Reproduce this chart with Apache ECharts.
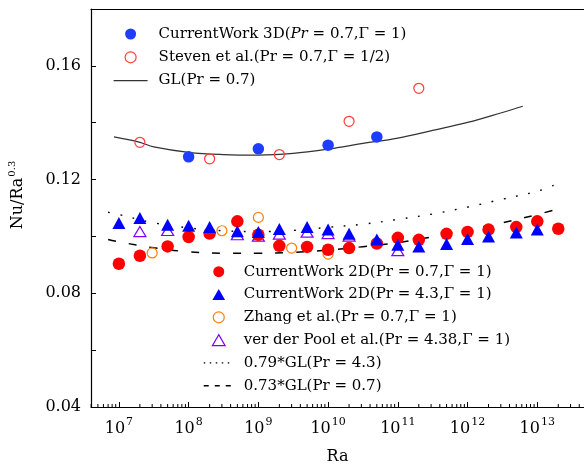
<!DOCTYPE html>
<html>
<head>
<meta charset="utf-8">
<script src="https://cdn.jsdelivr.net/npm/echarts@6/dist/echarts.min.js"></script>
<style>
  html, body { margin: 0; padding: 0; background: #fff; }
  #chart { width: 584px; height: 465px; }
</style>
</head>
<body>
<div id="chart"></div>
<script>
// x range of the plot (Ra)
const xMin = Math.pow(10, 6.6)
const xMax = Math.pow(10, 13.67)

// CurrentWork 3D (Pr=0.7, Γ=1)
const ra3D = [1e8, 1e9, 1e10, 5e10]
const nu3D = [0.1280, 0.1308, 0.1321, 0.1350]

// Steven et al. (Pr=0.7, Γ=1/2)
const raSteven = [2e7, 2e8, 2e9, 2e10, 2e11]
const nuSteven = [0.1331, 0.1273, 0.1288, 0.1405, 0.1521]

// GL(Pr=0.7)
const raGL = [8.5e6, 2e7, 3.16e7, 1e8, 3.16e8, 1e9, 3.16e9, 1e10, 3.16e10, 1e11, 3.16e11, 1e12, 3.16e12, 6.2e12]
const nuGL = [0.1350, 0.1331, 0.1315, 0.1296, 0.1288, 0.1286, 0.1292, 0.1307, 0.1327, 0.1346, 0.1373, 0.1401, 0.1436, 0.1458]

// CurrentWork 2D, both Pr
const ra2D = [1e7, 2e7, 5e7, 1e8, 2e8, 5e8, 1e9, 2e9, 5e9, 1e10, 2e10, 5e10, 1e11, 2e11, 5e11, 1e12, 2e12, 5e12, 1e13, 2e13]
const nu2D07 = [0.0904, 0.0932, 0.0965, 0.0998, 0.1010, 0.1053, 0.1006, 0.0967, 0.0963, 0.0953, 0.0959, 0.0975, 0.0995, 0.0988, 0.1009, 0.1016, 0.1024, 0.1033, 0.1053, 0.1027]
const ra2D43 = [1e7, 2e7, 5e7, 1e8, 2e8, 5e8, 1e9, 2e9, 5e9, 1e10, 2e10, 5e10, 1e11, 2e11, 5e11, 1e12, 2e12, 5e12, 1e13]
const nu2D43 = [0.1047, 0.1065, 0.1041, 0.1038, 0.1033, 0.1018, 0.1016, 0.1026, 0.1033, 0.1024, 0.1009, 0.0989, 0.0971, 0.0965, 0.0973, 0.0991, 0.1000, 0.1014, 0.1024]

// Zhang et al. (Pr=0.7, Γ=1)
const raZhang = [3e7, 3e8, 1e9, 3e9, 1e10]
const nuZhang = [0.0942, 0.1020, 0.1067, 0.0959, 0.0938]

// ver der Pool et al. (Pr=4.38, Γ=1)
const raPool = [2e7, 5e7, 5e8, 1e9, 2e9, 5e9, 1e10, 2e10, 1e11]
const nuPool = [0.1017, 0.1021, 0.1006, 0.1001, 0.1008, 0.1015, 0.1010, 0.1001, 0.0950]

// 0.79*GL(Pr=4.3)
const raDot = [7e6, 1e7, 3.16e7, 1e8, 3.16e8, 1e9, 3.16e9, 1e10, 3.16e10, 1e11, 3.16e11, 1e12, 3.16e12, 1e13, 1.8e13]
const nuDot = [0.1085, 0.1077, 0.1048, 0.1030, 0.1020, 0.1017, 0.1021, 0.1032, 0.1043, 0.1060, 0.1079, 0.1103, 0.1131, 0.1159, 0.1182]

// 0.73*GL(Pr=0.7)
const raDash = [7e6, 1e7, 3.16e7, 1e8, 3.16e8, 1e9, 3.16e9, 1e10, 3.16e10, 1e11, 3.16e11, 1e12, 3.16e12, 1e13, 1.8e13]
const nuDash = [0.0989, 0.0981, 0.0960, 0.0946, 0.0941, 0.0941, 0.0944, 0.0952, 0.0964, 0.0978, 0.0999, 0.1022, 0.1048, 0.1077, 0.1094]

// log minor ticks (2..9 x 10^k) inside the range
const minorTicks = []
for (let k = 6; k <= 13; k++) {
  for (let m = 2; m <= 9; m++) {
    const v = m * Math.pow(10, k)
    if (v > xMin && v < xMax) minorTicks.push([v])
  }
}

const N3D = 'CurrentWork 3D(Pr = 0.7,Γ = 1)'
const NSteven = 'Steven et al.(Pr = 0.7,Γ = 1/2)'
const NGL = 'GL(Pr = 0.7)'
const N07 = 'CurrentWork 2D(Pr = 0.7,Γ = 1)'
const N43 = 'CurrentWork 2D(Pr = 4.3,Γ = 1)'
const NZhang = 'Zhang et al.(Pr = 0.7,Γ = 1)'
const NPool = 'ver der Pool et al.(Pr = 4.38,Γ = 1)'
const NDot = '0.79*GL(Pr = 4.3)'
const NDash = '0.73*GL(Pr = 0.7)'

const zip = (xs, ys) => xs.map((x, i) => [x, ys[i]])

const axisFont = 'DejaVu Serif'
const legendFont = 'DejaVu Serif'
const triIcon = 'path://M6,0L12,10.4L0,10.4Z'

const legendText = {
  fontFamily: legendFont,
  fontSize: 15,
  color: '#000',
  lineHeight: 18,
  rich: {
    i: { fontFamily: legendFont, fontSize: 15, fontStyle: 'italic', lineHeight: 18, color: '#000' }
  }
}
const noSymbol = { opacity: 0 }

const chart = echarts.init(document.getElementById('chart'))
const option = {
  animation: false,
  backgroundColor: '#fff',
  grid: { left: 91, right: 0, top: 9, bottom: 58, outerBoundsMode: 'none' },
  legend: [
    {
      orient: 'vertical',
      left: 113,
      top: 25,
      padding: 0,
      itemGap: 5.3,
      itemWidth: 34,
      itemHeight: 11,
      symbolKeepAspect: true,
      selectedMode: false,
      textStyle: Object.assign({ padding: [0, 0, 0, 6] }, legendText),
      formatter: (name) => name === N3D ? 'CurrentWork 3D({i|Pr} = 0.7,Γ = 1)' : name,
      data: [
        { name: N3D },
        { name: NSteven, itemStyle: { color: 'rgba(0,0,0,0)', borderColor: '#ff3b3b', borderWidth: 1.2 } },
        { name: NGL, itemStyle: noSymbol, lineStyle: { width: 1.2, color: '#333' } }
      ]
    },
    {
      orient: 'vertical',
      left: 203,
      top: 262.7,
      padding: 0,
      itemGap: 4.8,
      itemWidth: 30,
      itemHeight: 11,
      symbolKeepAspect: true,
      selectedMode: false,
      textStyle: Object.assign({ padding: [0, 0, 0, 5] }, legendText),
      data: [
        { name: N07 },
        { name: N43, icon: triIcon },
        { name: NZhang, itemStyle: { color: 'rgba(0,0,0,0)', borderColor: '#ff7f0e', borderWidth: 1.2 } },
        { name: NPool, icon: triIcon, itemStyle: { color: 'rgba(0,0,0,0)', borderColor: '#8000ff', borderWidth: 1.2 } },
        { name: NDot, itemStyle: noSymbol, lineStyle: { width: 1.2, color: '#000', type: [1.5, 4.5] } },
        { name: NDash, itemStyle: noSymbol, lineStyle: { width: 1.5, color: '#000', type: [5, 6] } }
      ]
    }
  ],
  xAxis: [
    {
      type: 'log',
      logBase: 10,
      min: xMin,
      max: xMax,
      position: 'bottom',
      name: 'Ra',
      nameLocation: 'middle',
      nameGap: 42,
      nameTextStyle: { fontFamily: axisFont, fontSize: 16, color: '#000' },
      axisLine: { lineStyle: { color: '#000', width: 1.2 } },
      axisTick: { inside: true, length: 5, lineStyle: { color: '#000', width: 1 } },
      splitLine: { show: false },
      axisLabel: {
        margin: 10,
        color: '#000',
        formatter: (v) => {
          const e = Math.log10(v)
          if (Math.abs(e - Math.round(e)) > 1e-6) return ''
          return '{b|10}{e|' + Math.round(e) + '}'
        },
        rich: {
          b: { fontFamily: axisFont, fontSize: 16, color: '#000' },
          e: { fontFamily: axisFont, fontSize: 11, color: '#000', padding: [0, 0, 13, 1] }
        }
      }
    },
    {
      type: 'log',
      logBase: 10,
      min: xMin,
      max: xMax,
      position: 'top',
      axisLine: { lineStyle: { color: '#000', width: 1.2 } },
      axisTick: { show: false },
      axisLabel: { show: false },
      splitLine: { show: false }
    }
  ],
  yAxis: {
    type: 'value',
    min: 0.04,
    max: 0.18,
    interval: 0.02,
    name: 'Nu/Ra{s|0.3}',
    nameLocation: 'middle',
    nameGap: 62,
    nameTextStyle: {
      fontFamily: axisFont,
      fontSize: 16,
      color: '#000',
      padding: [0, 0, 0, 26],
      rich: {
        s: { fontFamily: axisFont, fontSize: 10, color: '#000', padding: [0, 0, 12, 1] }
      }
    },
    axisLine: { show: true, lineStyle: { color: '#000', width: 1.2 } },
    axisTick: { show: true, inside: true, length: 5, lineStyle: { color: '#000', width: 1 } },
    splitLine: { show: false },
    axisLabel: {
      margin: 10,
      fontFamily: axisFont,
      fontSize: 16,
      color: '#000',
      formatter: (v) => Math.round(v * 100) % 4 === 0 ? v.toFixed(2) : ''
    }
  },
  series: [
    {
      name: NGL,
      type: 'line',
      data: zip(raGL, nuGL),
      smooth: 0.4,
      symbol: 'none',
      itemStyle: { color: '#333' },
      lineStyle: { color: '#333', width: 1.2 },
      z: 1
    },
    {
      name: NDot,
      type: 'line',
      data: zip(raDot, nuDot),
      smooth: 0.4,
      symbol: 'none',
      itemStyle: { color: '#000' },
      lineStyle: { color: '#000', width: 1.4, type: [1.8, 10.7] },
      z: 1
    },
    {
      name: NDash,
      type: 'line',
      data: zip(raDash, nuDash),
      smooth: 0.4,
      symbol: 'none',
      itemStyle: { color: '#000' },
      lineStyle: { color: '#000', width: 1.5, type: [8, 13] },
      z: 1
    },
    {
      name: NZhang,
      type: 'scatter',
      data: zip(raZhang, nuZhang),
      symbol: 'circle',
      symbolSize: 10,
      itemStyle: { color: 'rgba(0,0,0,0)', borderColor: '#ff7f0e', borderWidth: 1.2, opacity: 1 },
      z: 2
    },
    {
      name: NPool,
      type: 'scatter',
      data: zip(raPool, nuPool),
      symbol: 'triangle',
      symbolSize: [12, 10],
      itemStyle: { color: 'rgba(0,0,0,0)', borderColor: '#8000ff', borderWidth: 1.2, opacity: 1 },
      z: 2
    },
    {
      name: N07,
      type: 'scatter',
      data: zip(ra2D, nu2D07),
      symbol: 'circle',
      symbolSize: 12.5,
      itemStyle: { color: '#ff0000', opacity: 1 },
      z: 3
    },
    {
      name: N43,
      type: 'scatter',
      data: zip(ra2D43, nu2D43),
      symbol: 'triangle',
      symbolSize: [13, 12],
      itemStyle: { color: '#0000ff', opacity: 1 },
      z: 4
    },
    {
      name: NSteven,
      type: 'scatter',
      data: zip(raSteven, nuSteven),
      symbol: 'circle',
      symbolSize: 10,
      itemStyle: { color: 'rgba(0,0,0,0)', borderColor: '#ff3b3b', borderWidth: 1.2, opacity: 1 },
      z: 3
    },
    {
      name: N3D,
      type: 'scatter',
      data: zip(ra3D, nu3D),
      symbol: 'circle',
      symbolSize: 11.5,
      itemStyle: { color: '#1f3dff', opacity: 1 },
      z: 3
    },
    {
      // log-scale minor ticks along the bottom axis
      type: 'custom',
      data: minorTicks,
      encode: { x: 0 },
      silent: true,
      z: 5,
      renderItem: (params, api) => {
        const p = api.coord([api.value(0), 0.04])
        return {
          type: 'line',
          shape: { x1: p[0], y1: p[1], x2: p[0], y2: p[1] - 3 },
          style: { stroke: '#000', lineWidth: 1 }
        }
      }
    }
  ]
}
chart.setOption(option)
</script>
</body>
</html>
